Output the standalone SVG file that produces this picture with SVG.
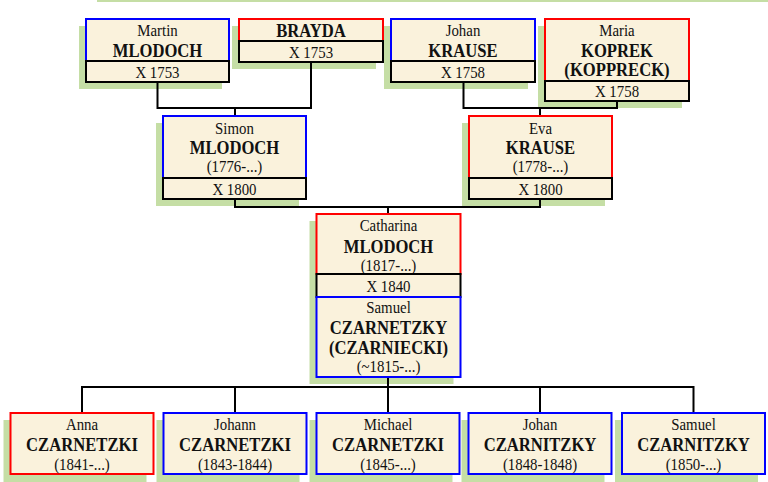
<svg xmlns="http://www.w3.org/2000/svg" width="768" height="482" viewBox="0 0 768 482">
<style>
text{font-family:"Liberation Serif","Times New Roman",serif;text-anchor:middle;fill:#111;transform-box:fill-box;transform-origin:center;transform:scaleX(0.9)}
.n{font-size:16.5px}
.s{font-size:18.5px;font-weight:bold}
.d{font-size:16.5px}
.sh{fill:#C5DEA5}
.m{fill:#FAF2DC;stroke:#0000FF;stroke-width:2}
.f{fill:#FAF2DC;stroke:#FF0000;stroke-width:2}
.x{fill:#FAF2DC;stroke:#000;stroke-width:2}
.c{fill:none;stroke:#000;stroke-width:2}
</style>
<rect x="97" y="0" width="671" height="2" class="sh"/>
<g id="shadows">
<rect x="79" y="26" width="143" height="63" class="sh"/>
<rect x="232" y="26" width="144" height="43" class="sh"/>
<rect x="384" y="26" width="144" height="63" class="sh"/>
<rect x="538" y="26" width="144" height="82" class="sh"/>
<rect x="156" y="123" width="143" height="83" class="sh"/>
<rect x="462" y="123" width="143" height="83" class="sh"/>
<rect x="309.5" y="221" width="144" height="163" class="sh"/>
<rect x="3.5" y="420" width="143" height="62" class="sh"/>
<rect x="156.5" y="420" width="143" height="62" class="sh"/>
<rect x="309.5" y="420" width="143" height="62" class="sh"/>
<rect x="461.5" y="420" width="143" height="62" class="sh"/>
<rect x="615" y="420" width="143" height="62" class="sh"/>
</g>
<g id="connectors">
<path class="c" d="M157.5 82V108H311V62M235 108V116"/>
<path class="c" d="M463.5 82V108H617V101M540 108V116"/>
<path class="c" d="M235 199V207H540V199M388 207V214"/>
<path class="c" d="M388 377V413M82 413V387H693.5V413M235 387V413M540 387V413"/>
</g>
<g id="martin">
<rect x="86" y="19" width="143" height="42" class="m"/>
<rect x="86" y="61" width="143" height="21" class="x"/>
<text x="157.5" y="36.5" class="n">Martin</text>
<text x="157.5" y="57.5" class="s">MLODOCH</text>
<text x="157.5" y="78" class="d">X 1753</text>
</g>
<g id="brayda">
<rect x="239" y="19" width="144" height="22" class="f"/>
<rect x="239" y="41" width="144" height="21" class="x"/>
<text x="311" y="37.5" class="s">BRAYDA</text>
<text x="311" y="58.5" class="d">X 1753</text>
</g>
<g id="johan-krause">
<rect x="391" y="19" width="144" height="42" class="m"/>
<rect x="391" y="61" width="144" height="21" class="x"/>
<text x="463" y="36.5" class="n">Johan</text>
<text x="463" y="57.5" class="s">KRAUSE</text>
<text x="463" y="78" class="d">X 1758</text>
</g>
<g id="maria">
<rect x="545" y="19" width="144" height="62" class="f"/>
<rect x="545" y="81" width="144" height="20" class="x"/>
<text x="617" y="36" class="n">Maria</text>
<text x="617" y="57.5" class="s">KOPREK</text>
<text x="617" y="76.5" class="s">(KOPPRECK)</text>
<text x="617" y="97.5" class="d">X 1758</text>
</g>
<g id="simon">
<rect x="163" y="116" width="143" height="62" class="m"/>
<rect x="163" y="178" width="143" height="21" class="x"/>
<text x="234.5" y="134" class="n">Simon</text>
<text x="234.5" y="154.5" class="s">MLODOCH</text>
<text x="234.5" y="172.5" class="d">(1776-...)</text>
<text x="234.5" y="195" class="d">X 1800</text>
</g>
<g id="eva">
<rect x="469" y="116" width="143" height="62" class="f"/>
<rect x="469" y="178" width="143" height="21" class="x"/>
<text x="540.5" y="134" class="n">Eva</text>
<text x="540.5" y="154.5" class="s">KRAUSE</text>
<text x="540.5" y="172.5" class="d">(1778-...)</text>
<text x="540.5" y="195" class="d">X 1800</text>
</g>
<g id="catharina">
<rect x="316.5" y="214" width="144" height="60" class="f"/>
<text x="388.5" y="231.5" class="n">Catharina</text>
<text x="388.5" y="253" class="s">MLODOCH</text>
<text x="388.5" y="271" class="d">(1817-...)</text>
</g>
<g id="marriage-1840">
<rect x="316.5" y="274" width="144" height="23" class="x"/>
<text x="388.5" y="292.5" class="d">X 1840</text>
</g>
<g id="samuel-sen">
<rect x="316.5" y="297" width="144" height="80" class="m"/>
<text x="388.5" y="313.5" class="n">Samuel</text>
<text x="388.5" y="334.5" class="s">CZARNETZKY</text>
<text x="388.5" y="354" class="s">(CZARNIECKI)</text>
<text x="388.5" y="372" class="d">(~1815-...)</text>
</g>
<g id="anna">
<rect x="10.5" y="413" width="143" height="61" class="f"/>
<text x="82" y="430" class="n">Anna</text>
<text x="82" y="451.5" class="s">CZARNETZKI</text>
<text x="82" y="470" class="d">(1841-...)</text>
</g>
<g id="johann">
<rect x="163.5" y="413" width="143" height="61" class="m"/>
<text x="235" y="430" class="n">Johann</text>
<text x="235" y="451.5" class="s">CZARNETZKI</text>
<text x="235" y="470" class="d">(1843-1844)</text>
</g>
<g id="michael">
<rect x="316.5" y="413" width="143" height="61" class="m"/>
<text x="388" y="430" class="n">Michael</text>
<text x="388" y="451.5" class="s">CZARNETZKI</text>
<text x="388" y="470" class="d">(1845-...)</text>
</g>
<g id="johan-czarnitzky">
<rect x="468.5" y="413" width="143" height="61" class="m"/>
<text x="540" y="430" class="n">Johan</text>
<text x="540" y="451.5" class="s">CZARNITZKY</text>
<text x="540" y="470" class="d">(1848-1848)</text>
</g>
<g id="samuel-jun">
<rect x="622" y="413" width="143" height="61" class="m"/>
<text x="693.5" y="430" class="n">Samuel</text>
<text x="693.5" y="451.5" class="s">CZARNITZKY</text>
<text x="693.5" y="470" class="d">(1850-...)</text>
</g>
</svg>
